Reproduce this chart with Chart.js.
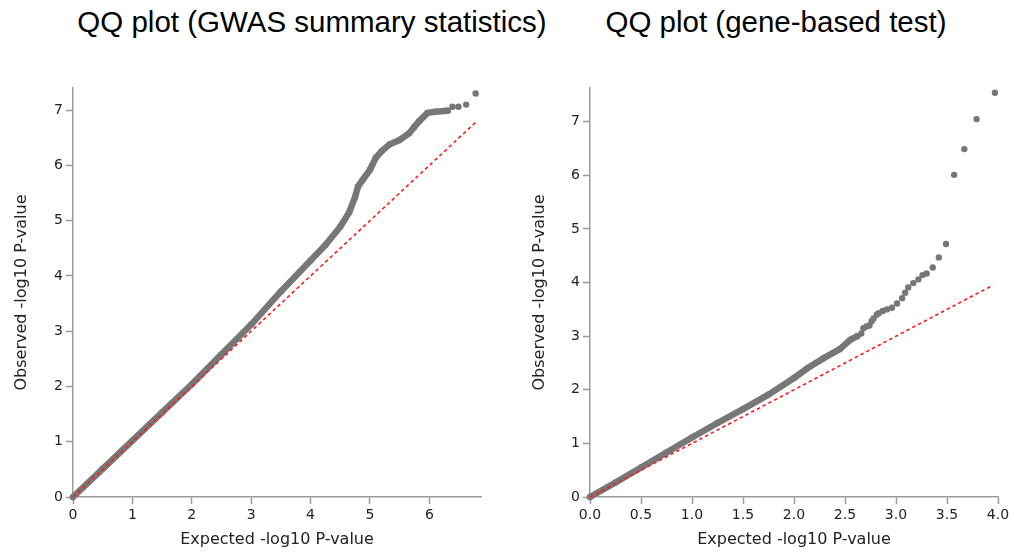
<!DOCTYPE html>
<html><head><meta charset="utf-8">
<script src="https://cdn.jsdelivr.net/npm/chart.js@4"></script>
<style>
html,body{margin:0;padding:0;background:#fff;width:1014px;height:556px;overflow:hidden;}
.t{position:absolute;top:5px;line-height:34px;font-family:"Liberation Sans",Arial,sans-serif;font-size:29.5px;color:#000;white-space:nowrap;transform:translateX(-50%);}
canvas{position:absolute;top:0;}
</style></head><body>
<div class="t" style="left:312px">QQ plot (GWAS summary statistics)</div>
<div class="t" style="left:776px">QQ plot (gene-based test)</div>
<canvas id="c1" width="520" height="556" style="left:0"></canvas>
<canvas id="c2" width="494" height="556" style="left:520px"></canvas>
<script>
// ---- GWAS summary statistics QQ (left) ----
const gwasExpected = [0,0.5,1,1.5,2,2.5,3,3.5,4,4.25,4.5,4.65,4.75,4.8,4.88,5.0,5.1,5.2,5.33,5.5,5.66,5.75,5.83,5.97,6.1,6.31];
const gwasObserved = [0,0.51,1.02,1.53,2.04,2.58,3.12,3.72,4.28,4.56,4.89,5.15,5.43,5.62,5.74,5.92,6.14,6.26,6.38,6.46,6.58,6.70,6.80,6.95,6.97,6.99];
const gwasTailExpected = [6.39,6.49,6.62,6.78];
const gwasTailObserved = [7.06,7.06,7.10,7.30];
const gwasNullLine = [0,6.78];
const gwasXTicks = [0,1,2,3,4,5,6];
const gwasXTickLabels = ['0','1','2','3','4','5','6'];
const gwasYTicks = [0,1,2,3,4,5,6,7];
const gwasYTickLabels = ['0','1','2','3','4','5','6','7'];

// ---- gene-based test QQ (right) ----
const geneExpected = [0,0.25,0.5,0.75,1.0,1.25,1.5,1.75,2.0,2.13,2.29,2.45,2.55,2.62];
const geneObserved = [0,0.27,0.55,0.83,1.11,1.38,1.64,1.91,2.22,2.40,2.59,2.76,2.93,3.00];
const geneTailExpected = [2.66,2.68,2.71,2.74,2.76,2.78,2.81,2.83,2.87,2.91,2.96,3.01,3.06,3.09,3.12,3.17,3.22,3.26,3.30,3.36,3.42,3.49,3.57,3.67,3.79,3.97];
const geneTailObserved = [3.05,3.15,3.18,3.20,3.28,3.33,3.40,3.43,3.47,3.50,3.53,3.61,3.71,3.81,3.91,3.99,4.06,4.14,4.17,4.28,4.47,4.72,6.01,6.49,7.05,7.54];
const geneNullLine = [0,3.95];
const geneXTicks = [0,0.5,1,1.5,2,2.5,3,3.5,4];
const geneXTickLabels = ['0.0','0.5','1.0','1.5','2.0','2.5','3.0','3.5','4.0'];
const geneYTicks = [0,1,2,3,4,5,6,7];
const geneYTickLabels = ['0','1','2','3','4','5','6','7'];

const POINT = '#777777';
const AXIS = '#9a9a9a';
const zip = (xs, ys) => xs.map((x, i) => ({x, y: ys[i]}));

function axis(ticks, labels, min, max, title, isY, size, titlePad) {
  return {
    type: 'linear', min, max,
    afterBuildTicks: s => { s.ticks = ticks.map(v => ({value: v})); },
    afterFit: s => { if (isY) s.width = size; else s.height = size; },
    ticks: {
      autoSkip: false, maxRotation: 0, padding: 3, color: '#222',
      font: {family: 'DejaVu Sans', size: 14},
      callback: (v, i) => labels[i]
    },
    grid: {display: true, drawOnChartArea: false, drawTicks: true, tickLength: 7, tickColor: AXIS, tickWidth: 1.5},
    border: {display: true, color: AXIS, width: 1.5},
    title: {display: true, text: title, color: '#222', font: {family: 'DejaVu Sans', size: 16}, padding: titlePad}
  };
}

function qq(id, ex, ob, tex, tob, nul, xt, xl, xmax, yt, yl, ymax, yW, yPad, rightPad) {
  return new Chart(document.getElementById(id), {
    type: 'scatter',
    data: {datasets: [
      {type: 'line', data: zip(nul, nul), borderColor: '#ff1a1a', borderWidth: 1.6, borderDash: [3.5, 3], pointRadius: 0, fill: false, order: 0, clip: false},
      {type: 'line', data: zip(ex, ob), borderColor: POINT, backgroundColor: POINT, borderWidth: 6.5, borderCapStyle: 'round', borderJoinStyle: 'round', pointRadius: 3.2, pointBorderWidth: 0, fill: false, order: 1, clip: false},
      {data: zip(tex, tob), backgroundColor: POINT, borderColor: POINT, pointRadius: 3.2, pointBorderWidth: 0, order: 1, clip: false}
    ]},
    options: {
      responsive: false, animation: false, events: [],
      layout: {padding: {top: 88, right: rightPad, bottom: 0, left: 0}},
      plugins: {legend: {display: false}, tooltip: {enabled: false}, title: {display: false}},
      scales: {
        x: axis(xt, xl, 0, xmax, 'Expected -log10 P-value', false, 59, {top: 0, bottom: 6.4}),
        y: axis(yt, yl, 0, ymax, 'Observed -log10 P-value', true, yW, {top: yPad, bottom: 0})
      }
    }
  });
}

qq('c1', gwasExpected, gwasObserved, gwasTailExpected, gwasTailObserved, gwasNullLine,
   gwasXTicks, gwasXTickLabels, 6.87, gwasYTicks, gwasYTickLabels, 7.40, 73, 12.4, 39);
qq('c2', geneExpected, geneObserved, geneTailExpected, geneTailObserved, geneNullLine,
   geneXTicks, geneXTickLabels, 4.0, geneYTicks, geneYTickLabels, 7.63, 70, 10.4, 16);
</script>
</body></html>
